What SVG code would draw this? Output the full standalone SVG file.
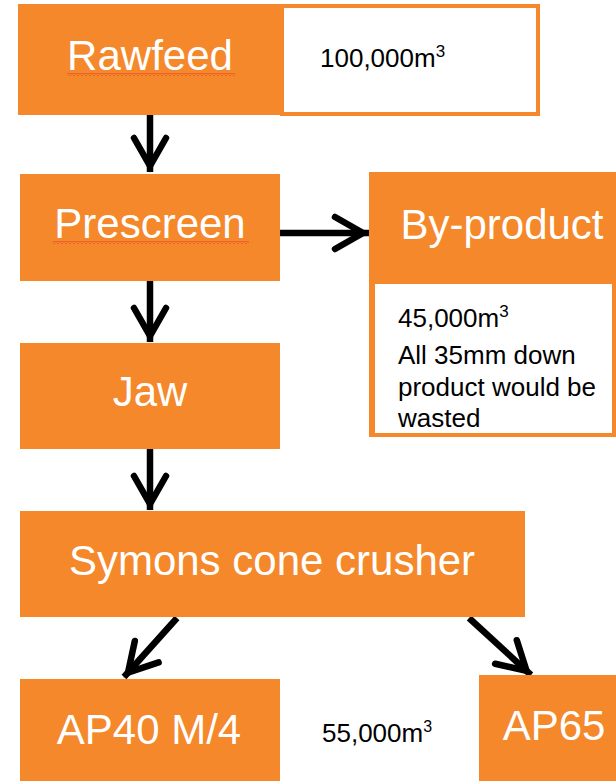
<svg xmlns="http://www.w3.org/2000/svg" width="616" height="781" viewBox="0 0 616 781">
<style>
.box{fill:#F4882B}
.wbox{fill:#fff}
.lbl{font-family:"Liberation Sans",Arial,sans-serif;font-size:42px;fill:#fff;text-anchor:middle}
.note{font-family:"Liberation Sans",Arial,sans-serif;font-size:26px;fill:#000}
.conn{stroke:#000;stroke-width:6.5;fill:none;marker-end:url(#ah)}
.sq{fill:url(#squig)}
</style>
<defs>
<marker id="ah" markerUnits="userSpaceOnUse" markerWidth="50" markerHeight="50" viewBox="-40 -25 50 50" refX="0" refY="0" orient="auto" overflow="visible">
<path d="M-34,-16 L-6,0 L-34,16" fill="none" stroke="#000" stroke-width="6.5" stroke-linecap="round" stroke-linejoin="miter"/>
</marker>
<pattern id="squig" width="4" height="3" patternUnits="userSpaceOnUse">
<path d="M0,2.5 L2,0.5 L4,2.5" stroke="#e8332a" stroke-width="0.9" fill="none"/>
</pattern>
</defs>

<g id="connectors">
<line class="conn" x1="150" y1="115" x2="150" y2="172"/>
<line class="conn" x1="279" y1="233" x2="369" y2="233"/>
<line class="conn" x1="150" y1="280" x2="150" y2="342"/>
<line class="conn" x1="150" y1="449" x2="150" y2="510"/>
<line class="conn" x1="177" y1="618" x2="124" y2="677"/>
<line class="conn" x1="469" y1="618" x2="531" y2="675"/>
</g>

<g id="rawfeed">
<rect class="box" x="18" y="4" width="264" height="111"/>
<rect class="wbox" x="282" y="6" width="256" height="108" stroke="#F4882B" stroke-width="4"/>
<text class="lbl" x="150" y="70">Rawfeed</text>
<rect class="sq" x="67" y="73" width="168" height="3"/>
<text class="note" x="320" y="67">100,000m<tspan dy="-10" font-size="17">3</tspan></text>
</g>

<g id="prescreen">
<rect class="box" x="20" y="174" width="260" height="107"/>
<text class="lbl" x="150" y="238">Prescreen</text>
<rect class="sq" x="53" y="241" width="196" height="3"/>
</g>

<g id="byproduct">
<rect class="box" x="369" y="172" width="247" height="265"/>
<rect class="wbox" x="375" y="284" width="237" height="149"/>
<text class="lbl" x="502" y="239">By-product</text>
<text class="note" x="398" y="327">45,000m<tspan dy="-10" font-size="17">3</tspan></text>
<text class="note" x="398" y="364">All 35mm down</text>
<text class="note" x="398" y="396">product would be</text>
<text class="note" x="398" y="427">wasted</text>
</g>

<g id="jaw">
<rect class="box" x="20" y="343" width="260" height="106"/>
<text class="lbl" x="150" y="406">Jaw</text>
</g>

<g id="symons">
<rect class="box" x="20" y="511" width="505" height="106"/>
<text class="lbl" x="272" y="575">Symons cone crusher</text>
</g>

<g id="ap40">
<rect class="box" x="20" y="679" width="260" height="102"/>
<text class="lbl" x="149" y="744">AP40 M/4</text>
</g>

<g id="volume55">
<text class="note" x="322" y="742" font-size="25">55,000m<tspan dy="-10" font-size="16">3</tspan></text>
</g>

<g id="ap65">
<rect class="box" x="479" y="675" width="137" height="106"/>
<text class="lbl" x="554" y="740">AP65</text>
</g>
</svg>
